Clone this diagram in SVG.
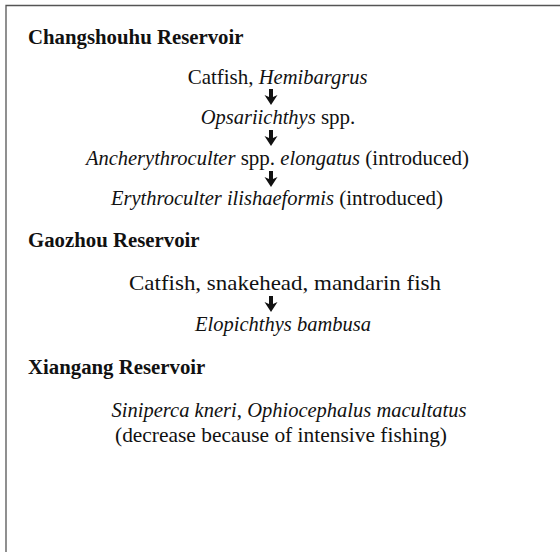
<svg xmlns="http://www.w3.org/2000/svg" width="560" height="552" viewBox="0 0 560 552">
<style>
.h{font-family:"Liberation Serif","DejaVu Serif",serif;font-size:20.8px;font-weight:bold;fill:#111}
.t{font-family:"Liberation Serif","DejaVu Serif",serif;font-size:21px;fill:#111;text-anchor:middle}
.i{font-style:italic;font-size:20.5px}
.frame{stroke:#555;stroke-width:1.3;fill:none}
.arr{fill:#111}
</style>
<defs>
<path id="arrow" d="M-2,0 H2 V8 L6.5,6 L0,16 L-6.5,6 L-2,8 Z"/>
</defs>
<rect width="560" height="552" fill="#fff"/>
<path class="frame" d="M6,552 V5.5 H560"/>
<g id="changshouhu">
<text class="h" x="28" y="44">Changshouhu Reservoir</text>
</g>
<g id="n1"><text class="t" x="277.5" y="84">Catfish, <tspan class="i">Hemibargrus</tspan></text></g>
<g id="n2"><text class="t" x="278" y="124"><tspan class="i">Opsariichthys</tspan> spp.</text></g>
<g id="n3"><text class="t" x="277.5" y="165"><tspan class="i">Ancherythroculter</tspan> spp. <tspan class="i">elongatus</tspan> (introduced)</text></g>
<g id="n4"><text class="t" x="277" y="205"><tspan class="i">Erythroculter ilishaeformis</tspan> (introduced)</text></g>
<g id="gaozhou">
<text class="h" x="28" y="247">Gaozhou Reservoir</text>
</g>
<g id="n5"><text class="t" x="285" y="290" textLength="312" lengthAdjust="spacingAndGlyphs">Catfish, snakehead, mandarin fish</text></g>
<g id="n6"><text class="t" x="283" y="331"><tspan class="i">Elopichthys bambusa</tspan></text></g>
<g id="xiangang">
<text class="h" x="28" y="374">Xiangang Reservoir</text>
</g>
<g id="n7">
<text class="t" x="289" y="417"><tspan class="i">Siniperca kneri</tspan>, <tspan class="i">Ophiocephalus macultatus</tspan></text>
<text class="t" x="281" y="442" textLength="332" lengthAdjust="spacingAndGlyphs">(decrease because of intensive fishing)</text>
</g>
<g id="connectors" class="arr">
<use href="#arrow" x="271" y="89"/>
<use href="#arrow" x="271" y="130"/>
<use href="#arrow" x="271" y="171"/>
<use href="#arrow" x="271" y="296"/>
</g>
</svg>
